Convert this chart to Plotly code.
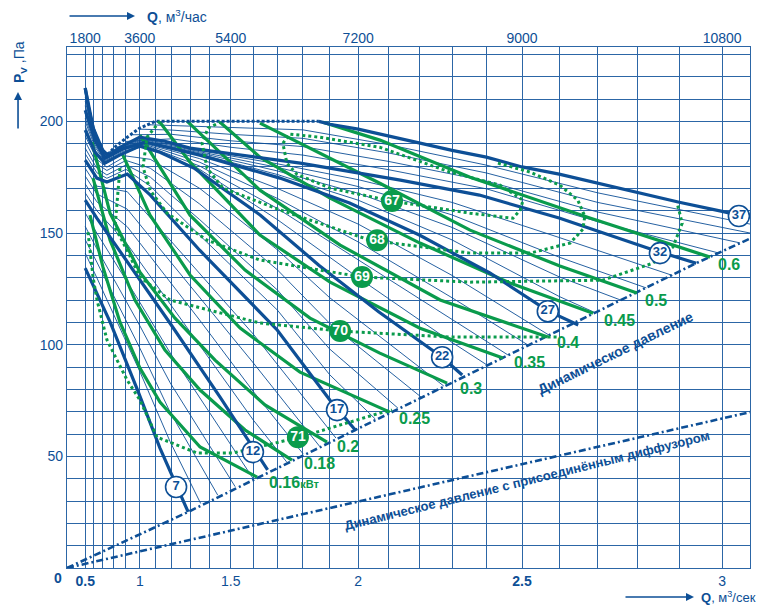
import plotly.graph_objects as go

BLUE = "#0d4f96"
GREEN = "#0a9b4c"
GRIDC = "#2c66a6"
FONT = "Liberation Sans, Arial, sans-serif"
NARROW = "Liberation Sans Narrow, Arial Narrow, Liberation Sans, sans-serif"

# ---------------- axes ----------------
GRID_Q = [0.5, 0.6, 0.7, 0.8, 0.9, 1.0, 1.1, 1.2, 1.3, 1.4, 1.5, 1.6, 1.7,
          1.8, 1.9, 2.0, 2.1, 2.2, 2.3, 2.4, 2.5, 2.6, 2.7, 2.8, 2.9, 3.0]
BOTTOM_TICK_Q = [0.5, 1.0, 1.5, 2.0, 2.5, 3.0]
BOTTOM_TICK_TEXT = ["<b>0.5</b>", "1", "1.5", "2", "<b>2.5</b>", "3"]
TOP_TICK_Q = [0.5, 1.0, 1.5, 2.0, 2.5, 3.0]
TOP_TICK_TEXT = ["1800", "3600", "5400", "7200", "9000", "10800"]
Y_GRID = [10, 20, 30, 40, 50, 60, 70, 80, 90, 100, 110, 120, 130, 140, 150,
          160, 170, 180, 190, 200, 210, 220, 230]
Y_LABELS = [50, 100, 150, 200]
Q_MAX = 3.063
P_MAX = 233.3

# ---------------- thick fan curves (Q m3/s, P Pa) ----------------
C07_Q = [0.5, 0.77, 0.99, 1.13, 1.29]
C07_P = [134.3, 110.1, 78.8, 53.7, 25.1]
C12_Q = [0.5, 0.64, 1.19, 1.45, 1.66]
C12_P = [164.7, 156.7, 109.6, 76.5, 43.9]
C17_Q = [0.5, 0.64, 0.74, 0.91, 1.07, 1.35, 1.70, 1.90, 1.99]
C17_P = [182.6, 174.6, 172.8, 176.4, 167.0, 142.3, 106.5, 75.2, 61.8]
C22_Q = [0.5, 0.62, 0.72, 0.85, 1.0, 1.13, 1.32, 1.63, 1.86, 2.07, 2.27, 2.33]
C22_P = [196.1, 186.2, 181.3, 184.9, 188.9, 186.2, 179.1, 158.0, 135.6, 114.6, 94.4, 86.4]
C27_Q = [0.5, 0.62, 0.72, 0.89, 1.04, 1.35, 1.71, 1.97, 2.20, 2.41, 2.57, 2.65]
C27_P = [205.0, 191.6, 183.5, 188.0, 190.7, 184.9, 174.6, 163.4, 149.1, 132.1, 115.1, 108.8]
C32_Q = [0.5, 0.6, 0.70, 0.75, 0.84, 1.0, 1.16, 1.30, 1.79, 2.14, 2.38, 2.60, 2.84, 2.94]
C32_P = [214.9, 197.0, 187.1, 184.4, 188.0, 192.9, 191.1, 188.0, 181.3, 173.7, 167.0, 156.7, 142.3, 136.5]
C37A_Q = [0.5, 0.55, 0.6, 0.65, 0.7, 0.75]
C37A_P = [214.9, 205.0, 197.0, 190.7, 187.0, 185.0]
C37_DOT_Q = [0.75, 0.8, 0.9, 1.0, 1.1, 1.86]
C37_DOT_P = [185.0, 188.0, 192.5, 197.0, 200.0, 200.0]
C37B_Q = [1.86, 1.9, 2.0, 2.1, 2.2, 2.3, 2.4, 2.5, 2.6, 2.7, 2.8, 2.9, 3.0, 3.038]
C37B_P = [200.0, 198.7, 196.5, 193.4, 190.5, 187.0, 184.0, 179.6, 176.4, 172.3, 168.3, 163.8, 159.7, 158.0]

# ---------------- thin fan curves ----------------
N08_Q = [0.5, 0.64, 1.0, 1.19, 1.355]
N08_P = [141, 130, 88, 56.6, 28.9]
N09_Q = [0.5, 0.64, 1.0, 1.19, 1.439]
N09_P = [147, 137, 98.5, 69.8, 32.6]
N10_Q = [0.5, 0.64, 1.0, 1.19, 1.52]
N10_P = [153, 143, 108.5, 83, 36.4]
N11_Q = [0.5, 0.64, 1.0, 1.19, 1.598]
N11_P = [159, 150, 119, 96.4, 40.2]
N13_Q = [0.5, 0.64, 0.91, 1.35, 1.6, 1.737]
N13_P = [168, 160, 145, 100, 66.2, 47.5]
N14_Q = [0.5, 0.64, 0.91, 1.35, 1.6, 1.801]
N14_P = [172, 164, 152.8, 111, 79, 51.1]
N15_Q = [0.5, 0.64, 0.91, 1.35, 1.6, 1.862]
N15_P = [175.5, 167.5, 160.7, 121, 91.8, 54.6]
N16_Q = [0.5, 0.64, 0.91, 1.35, 1.6, 1.922]
N16_P = [179, 171, 168.5, 132, 104.7, 58.2]
N18_Q = [0.5, 0.64, 0.74, 0.9, 1.07, 1.35, 1.7, 1.9, 2.058]
N18_P = [185.5, 177, 174.5, 178.5, 171, 149, 115.5, 86.5, 66.7]
N19_Q = [0.5, 0.64, 0.74, 0.9, 1.07, 1.35, 1.7, 1.9, 2.132]
N19_P = [188, 179, 176, 180.5, 175, 156, 124.5, 98, 71.6]
N20_Q = [0.5, 0.64, 0.74, 0.9, 1.07, 1.35, 1.7, 1.9, 2.205]
N20_P = [191, 181, 178, 182.5, 179, 163, 133.5, 109.5, 76.6]
N21_Q = [0.5, 0.64, 0.74, 0.9, 1.07, 1.35, 1.7, 1.9, 2.275]
N21_P = [193.5, 183, 179.5, 184.5, 183, 170, 142.5, 121, 81.5]
N23_Q = [0.5, 0.62, 0.72, 0.87, 1.03, 1.35, 1.7, 2.0, 2.3, 2.402]
N23_P = [198, 187, 181.7, 185.8, 189, 178.5, 156, 130, 101, 90.9]
N24_Q = [0.5, 0.62, 0.72, 0.87, 1.03, 1.35, 1.7, 2.0, 2.3, 2.461]
N24_P = [200, 188.5, 182.2, 186.4, 189.4, 180, 161, 138, 111, 95.4]
N25_Q = [0.5, 0.62, 0.72, 0.87, 1.03, 1.35, 1.7, 2.0, 2.3, 2.517]
N25_P = [201.5, 189.5, 182.6, 187, 189.8, 181.7, 165.5, 146, 121, 99.8]
N26_Q = [0.5, 0.62, 0.72, 0.87, 1.03, 1.35, 1.7, 2.0, 2.3, 2.573]
N26_P = [203.5, 190.5, 183, 187.5, 190.2, 183.3, 170, 154, 131, 104.3]
N28_Q = [0.5, 0.6, 0.72, 0.87, 1.02, 1.35, 1.7, 2.0, 2.3, 2.6, 2.694]
N28_P = [207, 194.5, 184, 187.6, 191, 185.4, 176.2, 164.7, 146.9, 121.6, 114.3]
N29_Q = [0.5, 0.6, 0.72, 0.87, 1.02, 1.35, 1.7, 2.0, 2.3, 2.6, 2.759]
N29_P = [209, 195, 184.5, 188, 191.4, 185.9, 177.8, 167.8, 152.5, 130.4, 119.9]
N30_Q = [0.5, 0.6, 0.72, 0.87, 1.02, 1.35, 1.7, 2.0, 2.3, 2.6, 2.821]
N30_P = [211, 195.8, 185, 188.3, 191.9, 186.4, 179.4, 170.8, 158.1, 139.2, 125.4]
N31_Q = [0.5, 0.6, 0.72, 0.87, 1.02, 1.35, 1.7, 2.0, 2.3, 2.6, 2.884]
N31_P = [213, 196.4, 185.5, 188.6, 192.3, 186.9, 181, 173.9, 163.7, 148, 131]
N33_Q = [0.9, 1.2, 1.5, 1.8, 2.1, 2.4, 2.7, 2.993]
N33_P = [191, 192.2, 188.4, 184.9, 178.4, 169.8, 155.1, 141]
N34_Q = [0.95, 1.2, 1.5, 1.8, 2.1, 2.4, 2.7, 3.04]
N34_P = [194, 194.2, 191.3, 188.7, 182.1, 173.3, 159.4, 145.6]
N35_Q = [1.0, 1.2, 1.5, 1.8, 2.1, 2.4, 2.7, 3.063]
N35_P = [196.5, 196.1, 194.2, 192.4, 185.9, 176.9, 163.7, 150]
N36_Q = [1.05, 1.2, 1.5, 1.8, 2.1, 2.4, 2.7, 3.063]
N36_P = [198.5, 198.1, 197.1, 196.2, 189.6, 180.4, 168, 154]

# ---------------- dynamic pressure lines ----------------
DYN_Q = [0, 1.29, 1.99, 2.94, 3.063]
DYN_P = [0, 25.1, 61.8, 136.5, 147.5]
DIFF_Q = [0, 2.07, 3.063]
DIFF_P = [0, 31.8, 69.8]

# ---------------- power lines (kW) ----------------
W016_Q = [0.562, 0.703, 0.853, 1.001, 1.130, 1.352, 1.616]
W016_P = [158.0, 134.7, 110.1, 89.5, 74.3, 54.2, 40.7]
W018_Q = [0.598, 0.769, 0.966, 1.160, 1.352, 1.564, 1.758]
W018_P = [174.6, 146.8, 120.0, 97.6, 79.7, 61.8, 48.3]
W020_Q = [0.586, 0.769, 1.001, 1.218, 1.426, 1.649, 1.890]
W020_P = [190.7, 158.9, 132.5, 111.9, 93.1, 73.0, 56.4]
W025_Q = [0.869, 1.068, 1.300, 1.542, 1.789, 2.106]
W025_P = [185.8, 158.0, 131.2, 107.4, 87.7, 69.8]
W030_Q = [1.001, 1.300, 1.564, 1.827, 2.073, 2.285]
W030_P = [193.8, 158.0, 133.4, 111.9, 96.2, 82.8]
W035_Q = [1.130, 1.300, 1.628, 1.901, 2.202, 2.447]
W035_P = [199.6, 181.7, 149.1, 128.0, 107.4, 94.0]
W040_Q = [1.284, 1.628, 1.937, 2.264, 2.570]
W040_P = [200.1, 169.2, 144.6, 120.0, 103.4]
W045_Q = [1.450, 1.628, 1.901, 2.202, 2.467, 2.688]
W045_P = [199.6, 184.0, 165.6, 145.5, 127.6, 114.1]
W050_Q = [1.628, 1.864, 2.073, 2.353, 2.602, 2.798]
W050_P = [199.2, 185.8, 172.3, 151.3, 135.2, 123.1]
W060_Q = [1.875, 2.073, 2.353, 2.680, 2.972]
W060_P = [199.6, 191.6, 175.0, 156.7, 139.2]
POWER_LABELS = ["0.16", "0.18", "0.2", "0.25", "0.3", "0.35", "0.4", "0.45", "0.5", "0.6"]
POWER_LABEL_Q = [1.657, 1.797, 1.919, 2.129, 2.318, 2.472, 2.589, 2.711, 2.813, 2.986]
POWER_LABEL_P = [38.5, 47.0, 54.2, 67.1, 80.6, 91.8, 101.2, 111.0, 120.0, 136.1]

# ---------------- iso lines (dotted green) ----------------
E67_Q = [1.722, 1.750, 1.864, 2.073, 2.294, 2.439, 2.503, 2.495, 2.475, 2.353, 2.113, 1.901, 1.777, 1.738, 1.722]
E67_P = [190.2, 194.3, 192.9, 188.4, 177.3, 171.4, 164.7, 160.3, 156.6, 158.9, 164.3, 170.1, 176.3, 181.3, 190.2]
E68_Q = [2.433, 2.522, 2.602, 2.649, 2.667, 2.662, 2.629, 2.522, 2.353, 2.040, 1.711, 1.464, 1.387, 1.362, 1.392, 1.450]
E68_P = [181.3, 177.3, 171.4, 164.7, 157.5, 151.7, 145.5, 141.0, 141.0, 146.8, 160.3, 170.1, 179.1, 190.2, 197.0, 199.6]
E69_Q = [1.130, 1.048, 1.022, 1.068, 1.172, 1.387, 1.628, 2.013, 2.353, 2.713, 2.837, 2.885, 2.907, 2.895]
E69_P = [200.1, 192.9, 179.5, 169.2, 158.9, 146.8, 137.9, 130.3, 128.0, 128.9, 136.5, 143.7, 154.4, 163.4]
E70_Q = [0.853, 0.829, 0.812, 0.908, 1.001, 1.189, 1.628, 1.937, 2.294, 2.602]
E70_P = [179.1, 164.7, 152.6, 142.3, 130.3, 120.0, 109.7, 106.1, 103.4, 103.4]
E71_Q = [0.537, 0.598, 0.642, 0.741, 0.908, 1.001, 1.112, 1.336, 1.510, 1.789, 2.073, 2.113]
E71_P = [150.4, 130.3, 120.0, 102.1, 84.2, 75.2, 58.6, 51.5, 51.5, 58.6, 69.4, 70.7]
EFF_LABELS = ["67", "68", "69", "70", "71"]
EFF_Q = [2.113, 2.064, 2.013, 1.937, 1.781]
EFF_P = [164.3, 146.8, 130.3, 106.1, 58.6]

CURVE_LABELS = ["7", "12", "17", "22", "27", "32", "37"]
CURVE_LABEL_Q = [1.224, 1.598, 1.926, 2.270, 2.570, 2.854, 3.038]
CURVE_LABEL_P = [36.3, 51.9, 70.7, 94.4, 115.0, 141.0, 157.6]


def qx(qs):
    # the flow axis of this chart is drawn on a quadratic (Q^2) scale
    return [q * q for q in qs]


fig = go.Figure()


def add_line(q, p, color, width, dash=None):
    fig.add_trace(go.Scatter(x=qx(q), y=p, mode="lines",
                             line=dict(color=color, width=width, dash=dash),
                             hoverinfo="skip", showlegend=False))


thin = [(N08_Q, N08_P), (N09_Q, N09_P), (N10_Q, N10_P), (N11_Q, N11_P),
        (N13_Q, N13_P), (N14_Q, N14_P), (N15_Q, N15_P), (N16_Q, N16_P),
        (N18_Q, N18_P), (N19_Q, N19_P), (N20_Q, N20_P), (N21_Q, N21_P),
        (N23_Q, N23_P), (N24_Q, N24_P), (N25_Q, N25_P), (N26_Q, N26_P),
        (N28_Q, N28_P), (N29_Q, N29_P), (N30_Q, N30_P), (N31_Q, N31_P),
        (N33_Q, N33_P), (N34_Q, N34_P), (N35_Q, N35_P), (N36_Q, N36_P)]
for q, p in thin:
    add_line(q, p, BLUE, 0.9)

# dynamic pressure lines
add_line(DYN_Q, DYN_P, BLUE, 2.6, "7px,3px,2px,3px")
add_line(DIFF_Q, DIFF_P, BLUE, 2.6, "7px,3px,2px,3px")

# power lines
for q, p in [(W016_Q, W016_P), (W018_Q, W018_P), (W020_Q, W020_P), (W025_Q, W025_P),
             (W030_Q, W030_P), (W035_Q, W035_P), (W040_Q, W040_P), (W045_Q, W045_P),
             (W050_Q, W050_P), (W060_Q, W060_P)]:
    add_line(q, p, GREEN, 3.2)

# thick fan curves
for q, p in [(C07_Q, C07_P), (C12_Q, C12_P), (C17_Q, C17_P), (C22_Q, C22_P),
             (C27_Q, C27_P), (C32_Q, C32_P), (C37A_Q, C37A_P), (C37B_Q, C37B_P)]:
    add_line(q, p, BLUE, 3.2)
add_line(C37_DOT_Q, C37_DOT_P, BLUE, 3, "3px,2px")

# dotted green iso lines
for q, p in [(E67_Q, E67_P), (E68_Q, E68_P), (E69_Q, E69_P), (E70_Q, E70_P), (E71_Q, E71_P)]:
    add_line(q, p, GREEN, 3, "3px,3px")

# circled curve numbers
fig.add_trace(go.Scatter(x=qx(CURVE_LABEL_Q), y=CURVE_LABEL_P, mode="markers+text",
                         text=["<b>%s</b>" % s for s in CURVE_LABELS], textposition="middle center",
                         textfont=dict(family=FONT, size=13, color=BLUE),
                         marker=dict(size=21, color="white", line=dict(color=BLUE, width=1.6)),
                         hoverinfo="skip", showlegend=False))
# filled iso labels
fig.add_trace(go.Scatter(x=qx(EFF_Q), y=EFF_P, mode="markers+text",
                         text=["<b>%s</b>" % s for s in EFF_LABELS], textposition="middle center",
                         textfont=dict(family=FONT, size=14, color="white"),
                         marker=dict(size=22, color=GREEN, line=dict(color=GREEN, width=0)),
                         hoverinfo="skip", showlegend=False))
# invisible trace so the top axis is drawn
fig.add_trace(go.Scatter(x=[0], y=[0], xaxis="x2", mode="markers",
                         marker=dict(opacity=0), hoverinfo="skip", showlegend=False))

annotations = []
for i, (lab, q, p) in enumerate(zip(POWER_LABELS, POWER_LABEL_Q, POWER_LABEL_P)):
    txt = "<b>%s</b>" % lab
    if i == 0:
        txt = "<b>0.16<span style='font-size:11px'>кВт</span></b>"
    annotations.append(dict(x=q * q, y=p, xref="x", yref="y", text=txt, showarrow=False,
                            xanchor="left", yanchor="middle",
                            font=dict(family=FONT, size=16, color=GREEN)))

annotations.append(dict(x=2.744 ** 2, y=96.2, xref="x", yref="y",
                        text="<b>Динамическое давление</b>", showarrow=False, textangle=-26,
                        font=dict(family=NARROW, size=14, color=BLUE)))
annotations.append(dict(x=2.514 ** 2, y=39.4, xref="x", yref="y",
                        text="<b>Динамическое давление с присоединённым диффузором</b>",
                        showarrow=False, textangle=-14,
                        font=dict(family=NARROW, size=13, color=BLUE)))

# axis titles and arrows (paper coordinates)
annotations += [
    dict(x=0.114, y=1.0595, xref="paper", yref="paper", xanchor="left", yanchor="middle",
         text="<b>Q</b>, м<sup>3</sup>/час", showarrow=False,
         font=dict(family=FONT, size=14, color=BLUE)),
    dict(x=0.0996, y=1.0595, xref="paper", yref="paper", text="", showarrow=True,
         ax=-67, ay=0, arrowhead=2, arrowsize=1, arrowwidth=1.6, arrowcolor=BLUE),
    dict(x=1.012, y=-0.0557, xref="paper", yref="paper", xanchor="right", yanchor="middle",
         text="<b>Q</b>, м<sup>3</sup>/сек", showarrow=False,
         font=dict(family=FONT, size=13, color=BLUE)),
    dict(x=0.918, y=-0.0557, xref="paper", yref="paper", text="", showarrow=True,
         ax=-70, ay=0, arrowhead=2, arrowsize=1, arrowwidth=1.6, arrowcolor=BLUE),
    dict(x=-0.069, y=0.971, xref="paper", yref="paper", xanchor="center", yanchor="middle",
         text="<b>P<sub>V</sub></b> ,Па", showarrow=False, textangle=-90,
         font=dict(family=FONT, size=14, color=BLUE)),
    dict(x=-0.0717, y=0.9136, xref="paper", yref="paper", text="", showarrow=True,
         ax=0, ay=38, arrowhead=2, arrowsize=1, arrowwidth=1.6, arrowcolor=BLUE),
    dict(x=-0.0132, y=-0.0192, xref="paper", yref="paper", xanchor="center", yanchor="middle",
         text="<b>0</b>", showarrow=False, font=dict(family=FONT, size=14, color=BLUE)),
]

bottom_text = []
for g in GRID_Q:
    t = ""
    for bq, bt in zip(BOTTOM_TICK_Q, BOTTOM_TICK_TEXT):
        if abs(bq - g) < 1e-9:
            t = bt
    bottom_text.append(t)

fig.update_layout(
    width=762, height=605,
    margin=dict(l=67, r=12, t=47, b=37),
    paper_bgcolor="white", plot_bgcolor="white",
    showlegend=False,
    annotations=annotations,
    xaxis=dict(range=[0, Q_MAX ** 2], tickvals=qx(GRID_Q), ticktext=bottom_text,
               tickangle=0, automargin=False,
               showgrid=True, gridcolor=GRIDC, gridwidth=1, zeroline=False,
               showline=True, linecolor=GRIDC, linewidth=1.2, mirror=True, ticks="",
               tickfont=dict(family=FONT, size=14, color=BLUE), fixedrange=True),
    xaxis2=dict(range=[0, Q_MAX ** 2], overlaying="x", side="top", tickvals=qx(TOP_TICK_Q),
                ticktext=TOP_TICK_TEXT, tickangle=0, automargin=False,
                showgrid=False, zeroline=False, ticks="",
                tickfont=dict(family=FONT, size=14, color=BLUE), fixedrange=True),
    yaxis=dict(range=[0, P_MAX], tickvals=Y_GRID, automargin=False,
               ticktext=[str(v) if v in Y_LABELS else "" for v in Y_GRID],
               showgrid=True, gridcolor=GRIDC, gridwidth=1, zeroline=False,
               showline=True, linecolor=GRIDC, linewidth=1.2, mirror=True, ticks="",
               tickfont=dict(family=FONT, size=14, color=BLUE), fixedrange=True),
)

fig.write_html("out.html", config={"displayModeBar": False},
               post_script="document.body.style.margin='0';")
